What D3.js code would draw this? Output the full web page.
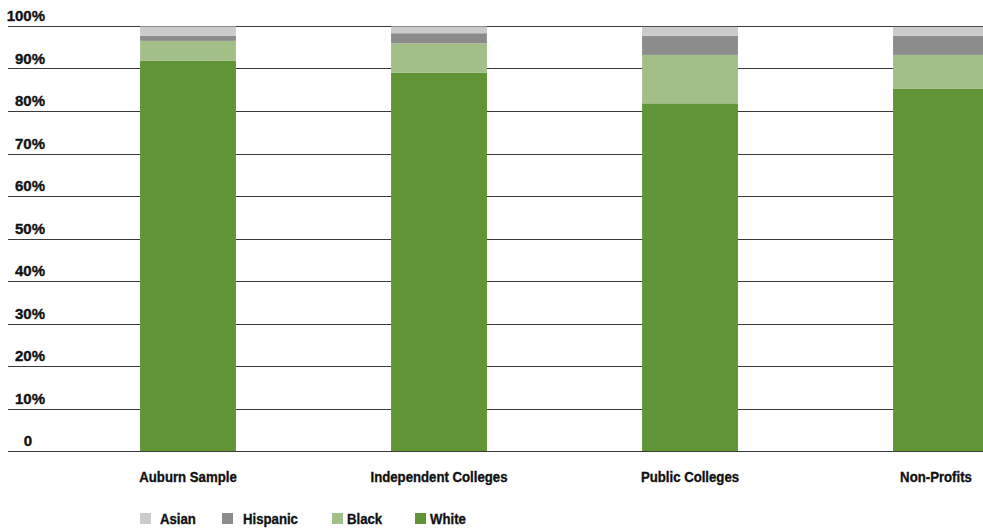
<!DOCTYPE html>
<html>
<head>
<meta charset="utf-8">
<script src="https://cdn.jsdelivr.net/npm/d3@7"></script>
<style>
  html, body { margin: 0; padding: 0; background: #fff; }
  svg text { font-family: "Liberation Sans", Arial, sans-serif; font-weight: bold; fill: #111; stroke: #111; stroke-width: 0.35px; font-size: 15px; }
</style>
</head>
<body>
<svg id="chart" width="983" height="529"></svg>
<script>
// Ethnic composition, share of total (%)
const categories = ["Auburn Sample", "Independent Colleges", "Public Colleges", "Non-Profits"];
const seriesNames = ["White", "Black", "Hispanic", "Asian"];
const white    = [91.8, 89.0, 81.8, 85.2];
const black    = [4.7, 6.9, 11.4, 8.0];
const hispanic = [1.2, 2.4, 4.5, 4.5];
const asian    = [2.2, 1.6, 2.1, 2.1];
const tickValues = [0, 10, 20, 30, 40, 50, 60, 70, 80, 90, 100];
const tickLabels = ["0", "10%", "20%", "30%", "40%", "50%", "60%", "70%", "80%", "90%", "100%"];
const legendOrder = ["Asian", "Hispanic", "Black", "White"];

const colors = { White: "#619436", Black: "#a3bf88", Hispanic: "#8c8c8c", Asian: "#cbcbcb" };

const rows = categories.map((c, i) => ({
  category: c, White: white[i], Black: black[i], Hispanic: hispanic[i], Asian: asian[i]
}));

const svg = d3.select("#chart");
const W = 983;
const squeeze = 0.88; // horizontal compression for a condensed look

const y = d3.scaleLinear().domain([0, 100]).range([451, 26]);
const x = d3.scaleBand().domain(categories).range([62.5, 1066.5])
  .paddingInner(0.618).paddingOuter(0.309);

const place = (px, py, k = squeeze) => `translate(${px},${py}) scale(${k},1)`;

// horizontal gridlines
svg.append("g").selectAll("line").data(tickValues).join("line")
  .attr("x1", 8).attr("x2", W)
  .attr("y1", d => Math.round(y(d)) + 0.5).attr("y2", d => Math.round(y(d)) + 0.5)
  .attr("stroke", "#3a3a3a").attr("stroke-width", 1.2);

// tick labels above each gridline
svg.append("g").selectAll("text").data(tickValues).join("text")
  .attr("transform", d => place(d === 0 ? 28 : 45, y(d) - 5, 1))
  .attr("text-anchor", d => d === 0 ? "middle" : "end")
  .text((d, i) => tickLabels[i]);

// stacked bars
const stacked = d3.stack().keys(seriesNames)(rows);
svg.append("g").selectAll("g").data(stacked).join("g")
  .attr("fill", s => colors[s.key])
  .selectAll("rect").data(s => s).join("rect")
  .attr("x", d => x(d.data.category))
  .attr("width", x.bandwidth())
  .attr("y", d => y(d[1]))
  .attr("height", d => y(d[0]) - y(d[1]));

// category labels
svg.append("g").selectAll("text").data(categories).join("text")
  .attr("transform", d => place(Math.min(x(d) + x.bandwidth() / 2, 936), 482))
  .attr("text-anchor", "middle")
  .text(d => d);

// legend
const legendX = [140, 222, 332, 415];
const legendTextX = [160, 243, 347, 430];
const legend = svg.append("g");
legend.selectAll("rect").data(legendOrder).join("rect")
  .attr("x", (d, i) => legendX[i]).attr("y", 513)
  .attr("width", 11).attr("height", 11)
  .attr("fill", d => colors[d]);
legend.selectAll("text").data(legendOrder).join("text")
  .attr("transform", (d, i) => place(legendTextX[i], 524))
  .text(d => d);
</script>
</body>
</html>
